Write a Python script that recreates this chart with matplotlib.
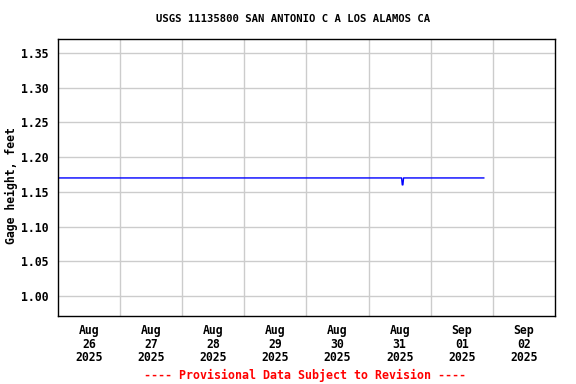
import matplotlib
matplotlib.use("Agg")
import matplotlib.pyplot as plt
from datetime import datetime, timedelta

# Gage height readings (feet)
times = ["2025-08-26 00:00", "2025-08-31 12:45", "2025-08-31 13:00",
         "2025-08-31 13:15", "2025-08-31 13:30", "2025-09-01 20:30"]
gage_height = [1.17, 1.17, 1.16, 1.16, 1.17, 1.17]

tick_days = ["2025-08-26", "2025-08-27", "2025-08-28", "2025-08-29",
             "2025-08-30", "2025-08-31", "2025-09-01", "2025-09-02"]
y_ticks = [1.00, 1.05, 1.10, 1.15, 1.20, 1.25, 1.30, 1.35]

t = [datetime.strptime(s, "%Y-%m-%d %H:%M") for s in times]
days = [datetime.strptime(s, "%Y-%m-%d") for s in tick_days]

font = {"family": "DejaVu Sans Mono", "weight": "bold", "size": 8.3}

fig = plt.figure(figsize=(5.76, 3.84), dpi=100)
ax = fig.add_axes([0.1007, 0.177, 0.8628, 0.721])

ax.plot(t, gage_height, color="blue", linewidth=1)

ax.set_xlim(days[0], days[-1] + timedelta(days=1))
ax.set_ylim(0.971, 1.37)

# grid at midnights, labels at noon
ax.set_xticks([d + timedelta(days=1) for d in days[:-1]], minor=False)
ax.set_xticklabels([])
ax.set_xticks([d + timedelta(hours=12) for d in days], minor=True)
ax.set_xticklabels([d.strftime("%b\n%d\n%Y") for d in days], minor=True, fontdict=font, linespacing=1.05)
ax.tick_params(axis="x", which="both", length=0, pad=6)
ax.grid(True, axis="x", which="major", color="#cccccc", linewidth=1)

ax.set_yticks(y_ticks)
ax.set_yticklabels([f"{v:.2f}" for v in y_ticks], fontdict=font)
ax.tick_params(axis="y", length=0, pad=7)
ax.grid(True, axis="y", color="#cccccc", linewidth=1)
ax.set_axisbelow(True)

for s in ax.spines.values():
    s.set_linewidth(1)
    s.set_color("black")

ax.set_ylabel("Gage height, feet", fontdict=font)
ax.yaxis.set_label_coords(-0.08, 0.473)
fig.text(0.508, 0.95, "USGS 11135800 SAN ANTONIO C A LOS ALAMOS CA", ha="center", va="center",
         fontdict={**font, "size": 7.7})
fig.text(0.53, 0.023, "---- Provisional Data Subject to Revision ----", ha="center", va="center",
         color="red", fontdict={**font, "size": 8.4})

fig.savefig("out.png", dpi=100)
